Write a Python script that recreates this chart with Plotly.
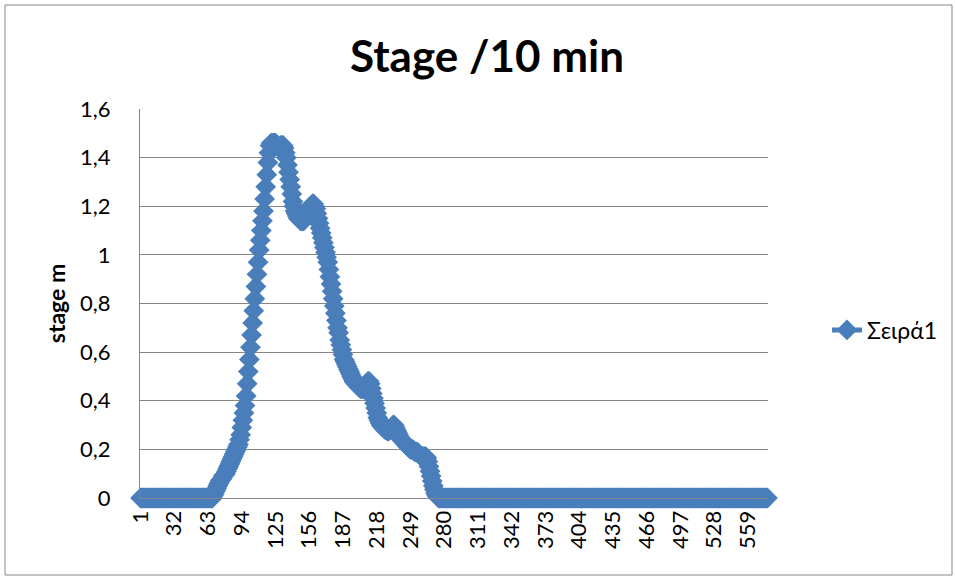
import plotly.graph_objects as go

# ---- data ----
n_categories = 577
categories = list(range(1, n_categories + 1))

lead_zeros = [0.0] * 67            # categories 1..67
stage_active = [                    # categories 68..274
    0.01, 0.02, 0.03, 0.04, 0.05, 0.06, 0.07, 0.075, 0.08, 0.09,
    0.095, 0.10, 0.11, 0.12, 0.13, 0.14, 0.15, 0.16, 0.17, 0.18,
    0.19, 0.20, 0.21, 0.22, 0.24, 0.26, 0.29, 0.32, 0.35, 0.38,
    0.42, 0.47, 0.52, 0.57, 0.62, 0.67, 0.72, 0.77, 0.82, 0.87,
    0.92, 0.97, 1.02, 1.06, 1.10, 1.14, 1.18, 1.23, 1.28, 1.33,
    1.38, 1.42, 1.45, 1.46, 1.46, 1.46, 1.46, 1.46, 1.45, 1.45,
    1.44, 1.44, 1.45, 1.45, 1.45, 1.44, 1.42, 1.40, 1.37, 1.34,
    1.31, 1.28, 1.25, 1.22, 1.20, 1.18, 1.17, 1.16, 1.15, 1.15,
    1.14, 1.14, 1.14, 1.14, 1.15, 1.16, 1.17, 1.18, 1.18, 1.19,
    1.20, 1.21, 1.21, 1.20, 1.19, 1.17, 1.15, 1.13, 1.11, 1.09,
    1.07, 1.05, 1.03, 1.01, 0.99, 0.97, 0.94, 0.91, 0.88, 0.85,
    0.82, 0.79, 0.76, 0.73, 0.70, 0.68, 0.65, 0.63, 0.61, 0.59,
    0.57, 0.56, 0.55, 0.54, 0.53, 0.52, 0.51, 0.50, 0.49, 0.48,
    0.475, 0.47, 0.465, 0.46, 0.455, 0.45, 0.45, 0.45, 0.45, 0.455,
    0.46, 0.47, 0.48, 0.48, 0.47, 0.45, 0.43, 0.41, 0.39, 0.37,
    0.35, 0.33, 0.32, 0.31, 0.30, 0.295, 0.29, 0.285, 0.28, 0.28,
    0.275, 0.275, 0.28, 0.285, 0.29, 0.30, 0.30, 0.29, 0.28, 0.27,
    0.26, 0.25, 0.245, 0.24, 0.235, 0.23, 0.225, 0.22, 0.215, 0.21,
    0.205, 0.20, 0.20, 0.20, 0.195, 0.19, 0.19, 0.19, 0.185, 0.18,
    0.175, 0.17, 0.17, 0.17, 0.17, 0.17, 0.165, 0.15, 0.13, 0.11,
    0.09, 0.07, 0.05, 0.035, 0.02, 0.01, 0.005,
]
trail_zeros = [0.0] * (n_categories - 67 - len(stage_active))
stage_values = lead_zeros + stage_active + trail_zeros

x_tick_values = [1, 32, 63, 94, 125, 156, 187, 218, 249, 280, 311, 342,
                 373, 404, 435, 466, 497, 528, 559]
x_tick_labels = [str(v) for v in x_tick_values]
y_tick_values = [0, 0.2, 0.4, 0.6, 0.8, 1.0, 1.2, 1.4, 1.6]
y_tick_labels = ["0", "0,2", "0,4", "0,6", "0,8", "1", "1,2", "1,4", "1,6"]

series_name = "Σειρά1"
title_text = "Stage /10 min"
y_title = "stage m"

# ---- style ----
BLUE = "#4A7EBB"
GRID = "#868686"
FONT = "Lato, 'Noto Sans', sans-serif"
W, H = 955, 578
L, R, T, B = 140, 187, 109, 80
PW, PH = W - L - R, H - T - B

def px_x(p):
    return (p - L) / PW

def px_y(p):
    return (H - B - p) / PH

fig = go.Figure()
fig.add_trace(go.Scatter(
    x=categories, y=stage_values, name=series_name,
    mode="lines+markers",
    line=dict(color=BLUE, width=5),
    marker=dict(symbol="diamond", size=16, color=BLUE, line=dict(width=0)),
    cliponaxis=False,
))

fig.update_layout(
    width=W, height=H,
    margin=dict(l=L, r=R, t=T, b=B, autoexpand=False),
    paper_bgcolor="white", plot_bgcolor="white",
    font=dict(family=FONT, color="black", size=21),
    title=dict(text=title_text, x=487 / W, xref="container", xanchor="center",
               y=1 - 57 / H, yref="container", yanchor="middle",
               font=dict(size=44, family=FONT, weight="bold", color="black")),
    showlegend=True,
    legend=dict(x=px_x(827), y=px_y(330), xanchor="left", yanchor="middle",
                font=dict(size=23, family=FONT), bgcolor="rgba(0,0,0,0)"),
    shapes=[dict(type="rect", xref="paper", yref="paper",
                 x0=px_x(5), x1=px_x(952), y0=px_y(575), y1=px_y(5),
                 line=dict(color=GRID, width=1), layer="below")],
)

fig.update_xaxes(
    range=[0.5, n_categories + 0.5],
    tickmode="array", tickvals=x_tick_values, ticktext=x_tick_labels,
    tickangle=-90, ticks="", ticklabelstandoff=3,
    showgrid=False, zeroline=False,
    showline=True, linecolor=GRID, linewidth=1,
    tickfont=dict(size=22, family=FONT),
)
fig.update_yaxes(
    range=[0, 1.6],
    tickmode="array", tickvals=y_tick_values, ticktext=y_tick_labels,
    ticks="", ticklabelstandoff=24,
    showgrid=True, gridcolor=GRID, gridwidth=1, zeroline=False,
    showline=True, linecolor=GRID, linewidth=1,
    tickfont=dict(size=22, family=FONT),
    title=dict(text=y_title, standoff=8,
               font=dict(size=23, family=FONT, weight="bold")),
)

fig.write_html("out.html")
